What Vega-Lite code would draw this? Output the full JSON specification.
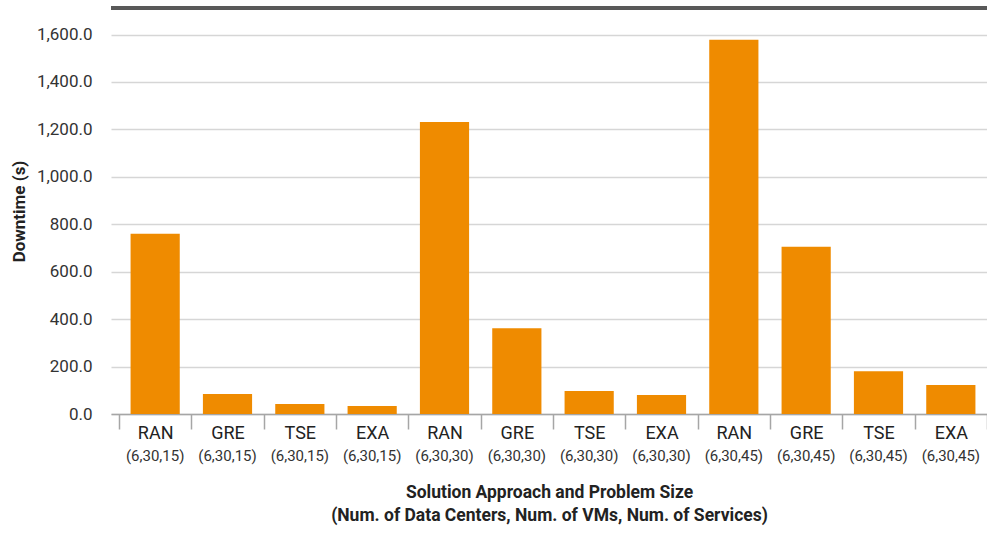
{
  "$schema": "https://vega.github.io/schema/vega-lite/v6.json",
  "width": 876,
  "height": 406,
  "autosize": "none",
  "padding": {"left": 111, "top": 8, "right": 0, "bottom": 124},
  "background": "white",
  "config": {
    "view": {"stroke": null},
    "font": "Roboto"
  },
  "data": {
    "values": [
      {"case": "RAN (6,30,15)", "approach": "RAN", "size": "(6,30,15)", "downtime": 760},
      {"case": "GRE (6,30,15)", "approach": "GRE", "size": "(6,30,15)", "downtime": 84},
      {"case": "TSE (6,30,15)", "approach": "TSE", "size": "(6,30,15)", "downtime": 42},
      {"case": "EXA (6,30,15)", "approach": "EXA", "size": "(6,30,15)", "downtime": 34},
      {"case": "RAN (6,30,30)", "approach": "RAN", "size": "(6,30,30)", "downtime": 1231},
      {"case": "GRE (6,30,30)", "approach": "GRE", "size": "(6,30,30)", "downtime": 362},
      {"case": "TSE (6,30,30)", "approach": "TSE", "size": "(6,30,30)", "downtime": 97},
      {"case": "EXA (6,30,30)", "approach": "EXA", "size": "(6,30,30)", "downtime": 80},
      {"case": "RAN (6,30,45)", "approach": "RAN", "size": "(6,30,45)", "downtime": 1578},
      {"case": "GRE (6,30,45)", "approach": "GRE", "size": "(6,30,45)", "downtime": 705},
      {"case": "TSE (6,30,45)", "approach": "TSE", "size": "(6,30,45)", "downtime": 180},
      {"case": "EXA (6,30,45)", "approach": "EXA", "size": "(6,30,45)", "downtime": 122}
    ]
  },
  "layer": [
    {
      "mark": {"type": "bar", "color": "#EF8B00", "width": {"band": 0.68}},
      "encoding": {
        "x": {
          "field": "case",
          "type": "nominal",
          "sort": null,
          "scale": {"paddingInner": 0, "paddingOuter": 0.0553, "align": 1},
          "axis": {
            "labelExpr": "split(datum.label, ' ')[0]",
            "labelAngle": 0,
            "labelFontSize": 18,
            "labelColor": "#222222",
            "labelPadding": -5,
            "labelBaseline": "top",
            "tickBand": "extent",
            "tickSize": 15,
            "tickColor": "#a6a6a6",
            "tickWidth": 1.5,
            "domainColor": "#a6a6a6",
            "domainWidth": 1.5,
            "title": ["Solution Approach and Problem Size", "(Num. of Data Centers, Num. of VMs, Num. of Services)"],
            "titleFontSize": 17.5,
            "titleFontWeight": "bold",
            "titleColor": "#222222",
            "titleLineHeight": 23,
            "titlePadding": 41
          }
        },
        "y": {
          "field": "downtime",
          "type": "quantitative",
          "scale": {"domain": [0, 1712], "nice": false},
          "axis": {
            "values": [0, 200, 400, 600, 800, 1000, 1200, 1400, 1600],
            "format": ",.1f",
            "domain": false,
            "ticks": false,
            "labelFontSize": 17,
            "labelColor": "#333333",
            "labelPadding": 19,
            "gridColor": "#d6d6d6",
            "gridWidth": 1.5,
            "title": "Downtime (s)",
            "titleFontSize": 17,
            "titleFontWeight": "bold",
            "titleColor": "#222222",
            "titlePadding": 8
          }
        }
      }
    },
    {
      "mark": {"type": "text", "fontSize": 15, "color": "#333333", "baseline": "middle", "dy": 42},
      "encoding": {
        "x": {"field": "case", "type": "nominal", "sort": null},
        "y": {"datum": 0},
        "text": {"field": "size"}
      }
    },
    {
      "mark": {"type": "rule", "color": "#595959", "strokeWidth": 3},
      "encoding": {
        "y": {"datum": 1712}
      }
    }
  ]
}
